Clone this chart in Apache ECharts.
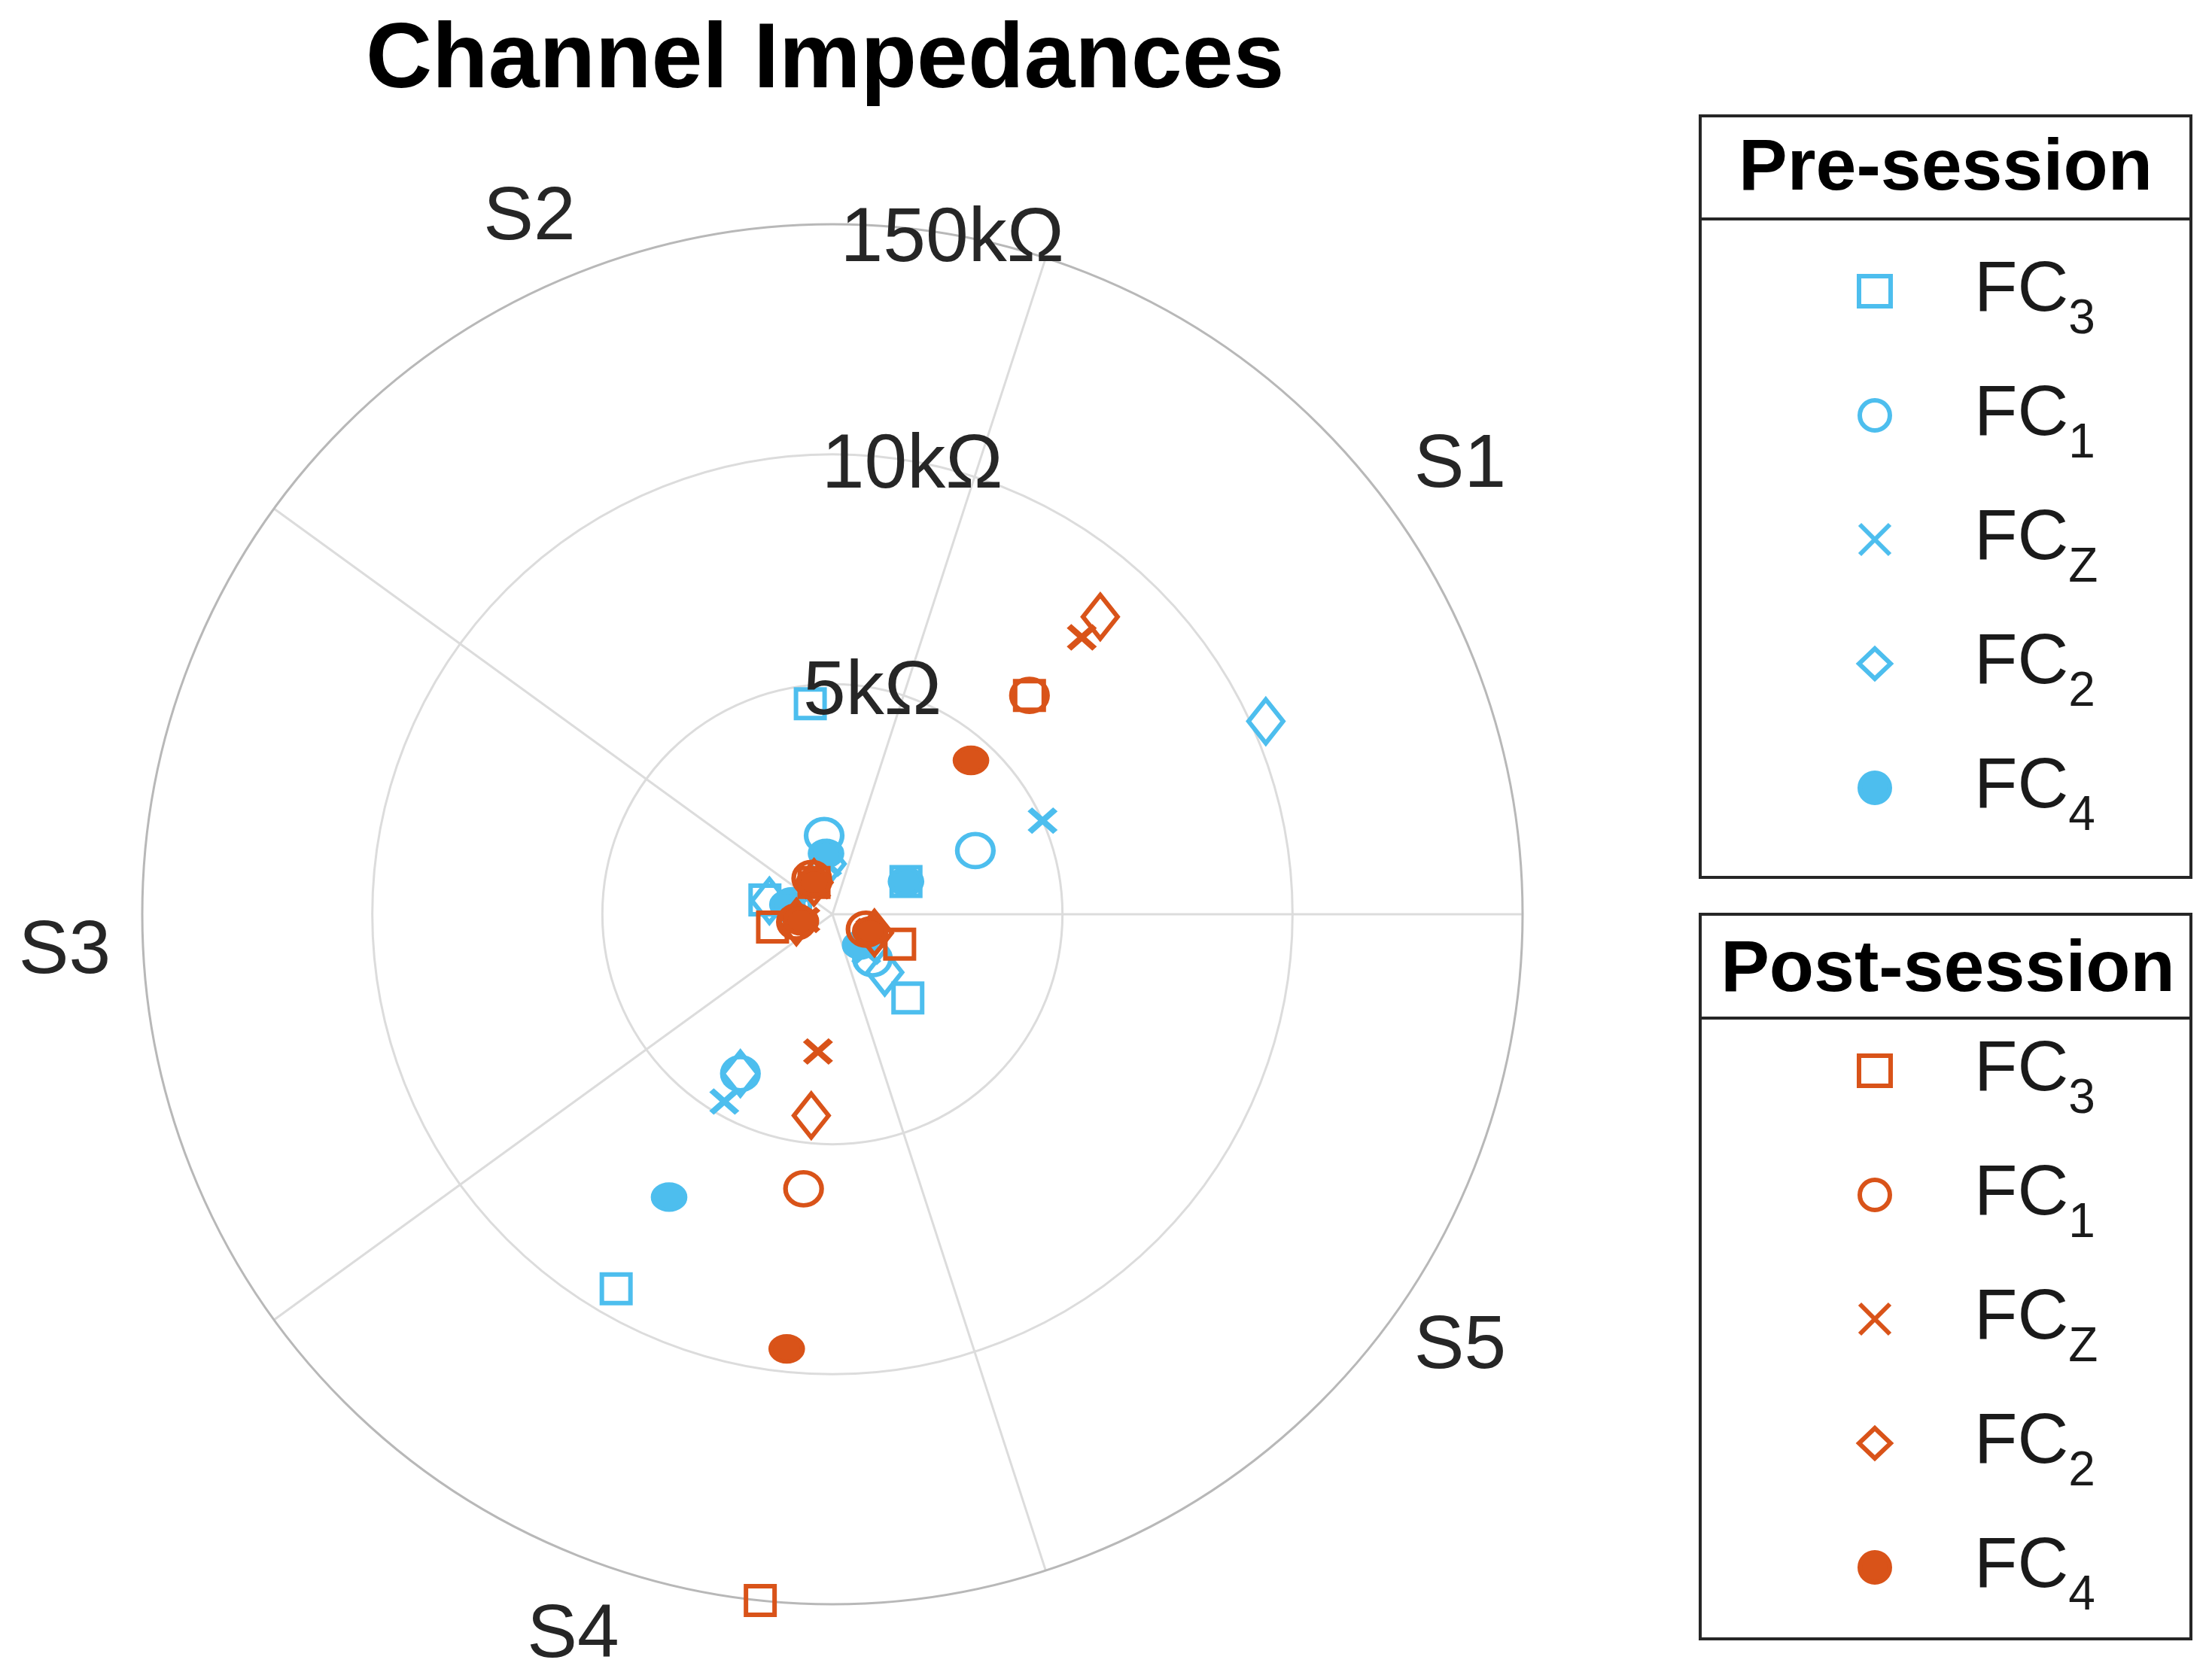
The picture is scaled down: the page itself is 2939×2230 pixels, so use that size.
<!DOCTYPE html>
<html><head><meta charset="utf-8">
<script src="https://cdn.jsdelivr.net/npm/echarts@6/dist/echarts.min.js"></script>
<style>html,body{margin:0;padding:0;background:#fff}#c{width:2939px;height:2230px}</style>
</head><body><div id="c"></div><script>
// ---- data (impedance in kΩ) ----
const sessions = ['S1','S2','S3','S4','S5'];
const channelSubs = ['3','1','Z','2','4'];
const radialTicksK = [5, 10, 150];
const radialTickLabels = ['5kΩ','10kΩ','150kΩ'];
const pre_FC3 = [1.75, 4.6, 1.5, 9.4, 2.45];
const pre_FC1 = [3.4, 1.72, 0.9, 4.0, 1.3];
const pre_FCZ = [5.0, 1.1, 0.8, 4.7, 1.1];
const pre_FC2 = [18.7, 1.1, 1.4, 4.0, 1.7];
const pre_FC4 = [1.75, 1.33, 1.0, 7.1, 0.9];
const post_FC3 = [6.4, 0.8, 1.33, 150, 1.6];
const post_FC1 = [6.4, 0.9, 0.8, 6.0, 0.8];
const post_FCZ = [8.1, 0.7, 0.6, 3.0, 0.9];
const post_FC2 = [8.7, 0.8, 0.8, 4.4, 1.0];
const post_FC4 = [4.5, 0.8, 0.7, 9.5, 0.9];

const BLUE = '#4DBEEE', ORANGE = '#D95319', TXT = '#262626';
const FONT = "'Liberation Sans', Arial, Helvetica, sans-serif";

// piecewise radial scale: 0 ->0, 5k ->1, 10k ->2, 150k ->3
function toRadial(k) {
  const knots = [0].concat(radialTicksK);
  for (let i = 1; i < knots.length; i++) {
    if (k <= knots[i]) return (i - 1) + (k - knots[i-1]) / (knots[i] - knots[i-1]);
  }
  return knots.length - 1;
}
// sector layout: each session gets a 72° wedge; pre at 1/3, post at 2/3 of the wedge
const START = 72; // angle axis start (screen degrees)
function angleFor(sessionIdx, isPost) {
  const screen = sessionIdx * 72 + (isPost ? 48 : 24);
  return ((screen - START) % 360 + 360) % 360;
}
const xPath = 'path://M0,0L10,10M10,0L0,10';
const symbols = ['rect', 'circle', xPath, 'diamond', 'circle'];
const sizes = [[38,38], [48,44], [34,30], [46,58], [42,34]];
const preSets = [pre_FC3, pre_FC1, pre_FCZ, pre_FC2, pre_FC4];
const postSets = [post_FC3, post_FC1, post_FCZ, post_FC2, post_FC4];

function makeSeries(sets, isPost, color, prefix) {
  return sets.map((vals, ci) => ({
    name: prefix + channelSubs[ci],
    type: 'scatter',
    coordinateSystem: 'polar',
    polarIndex: 0,
    symbol: symbols[ci],
    symbolSize: sizes[ci],
    z: isPost ? 3 : 2,
    itemStyle: {
      opacity: 1,
      color: ci === 4 ? color : 'rgba(0,0,0,0)',
      borderColor: color,
      borderWidth: ci === 2 ? 8 : 6
    },
    data: vals.map((v, si) => [toRadial(v), angleFor(si, isPost)])
  }));
}
const preSeries = makeSeries(preSets, false, BLUE, 'Pre FC');
const postSeries = makeSeries(postSets, true, ORANGE, 'Post FC');

const sLabelByValue = {};
sessions.forEach((s, i) => { sLabelByValue[angleFor(i, false) + 12] = s; });
// small per-label nudges (padding / line height) to match the original label placement
const sRich = {
  S1: { padding: [0, 0, 0, 31], lineHeight: 114 },
  S2: { padding: [0, 58, 0, 0], lineHeight: 104 },
  S3: { padding: [100, 42, 0, 0], lineHeight: 112 },
  S4: { padding: [0, 0, 0, 0], lineHeight: 174 },
  S5: { padding: [0, 0, 0, 31], lineHeight: 72 }
};
Object.keys(sRich).forEach(k => Object.assign(sRich[k], { fontSize: 100, color: TXT, fontFamily: FONT }));

function legendCfg(series, top) {
  return {
    data: series.map(s => s.name),
    orient: 'vertical', left: 2467, top: top, padding: 0,
    itemWidth: 42, itemHeight: 40, itemGap: 48, selectedMode: false,
    itemStyle: { borderWidth: 6 },
    formatter: name => '{g| }{fc|FC}{sub|' + name.slice(-1) + '}',
    textStyle: {
      color: '#1a1a1a', fontFamily: FONT,
      rich: {
        g: { width: 106, fontSize: 94, lineHeight: 140, fontFamily: FONT },
        fc: { fontSize: 94, lineHeight: 140, fontFamily: FONT, color: '#1a1a1a' },
        sub: { fontSize: 64, lineHeight: 14, verticalAlign: 'bottom', fontFamily: FONT, color: '#1a1a1a' }
      }
    }
  };
}

const chart = echarts.init(document.getElementById('c'), null, { renderer: 'canvas' });
chart.setOption({
  backgroundColor: '#fff',
  animation: false,
  title: {
    text: 'Channel Impedances', left: 486, top: 21, padding: 0,
    textStyle: { fontFamily: FONT, fontWeight: 'bold', fontSize: 122, color: '#000' }
  },
  polar: [
    { center: [1106, 1215], radius: 917 },
    { center: [1106, 1215], radius: 917 }
  ],
  angleAxis: [
    {
      polarIndex: 0, type: 'value', min: 0, max: 360, interval: 36,
      startAngle: START, clockwise: false,
      axisLine: { show: true, lineStyle: { color: '#b8b8b8', width: 3 } },
      axisTick: { show: false },
      axisLabel: {
        show: true, margin: 0,
        fontSize: 100, color: TXT, fontFamily: FONT,
        formatter: v => sLabelByValue[v] ? '{' + sLabelByValue[v] + '|' + sLabelByValue[v] + '}' : '',
        rich: sRich
      },
      splitLine: { show: true, lineStyle: { color: ['#dcdcdc', 'rgba(0,0,0,0)'], width: 3 } }
    },
    {
      polarIndex: 1, type: 'value', min: 0, max: 360, startAngle: 80, clockwise: false, show: false
    }
  ],
  radiusAxis: [
    {
      polarIndex: 0, type: 'value', min: 0, max: 3, interval: 1,
      axisLine: { show: false }, axisTick: { show: false }, axisLabel: { show: false },
      splitLine: { show: true, lineStyle: { color: ['#dcdcdc', '#dcdcdc', '#dcdcdc', 'rgba(0,0,0,0)'], width: 3 } }
    },
    {
      polarIndex: 1, type: 'value', min: 0, max: 3, interval: 1, z: 5,
      axisLine: { show: false }, axisTick: { show: false }, splitLine: { show: false },
      axisLabel: {
        show: true, margin: 0, align: 'center', verticalAlign: 'middle',
        fontSize: 102, color: TXT, fontFamily: FONT,
        formatter: v => (v >= 1 && v <= 3) ? '{r|' + radialTickLabels[v - 1] + '}' : '',
        rich: { r: { fontSize: 102, color: TXT, fontFamily: FONT, padding: [14, 0, 0, 0] } }
      }
    }
  ],
  legend: [legendCfg(preSeries, 340), legendCfg(postSeries, 1376)],
  graphic: [
    { type: 'rect', shape: { x: 2259, y: 154, width: 652, height: 1012 }, style: { fill: 'rgba(0,0,0,0)', stroke: '#262626', lineWidth: 4 } },
    { type: 'line', shape: { x1: 2259, y1: 291, x2: 2911, y2: 291 }, style: { stroke: '#262626', lineWidth: 4 } },
    { type: 'text', x: 2585, y: 225, style: { text: 'Pre-session', fontFamily: FONT, fontWeight: 'bold', fontSize: 97, fill: '#000', align: 'center', verticalAlign: 'middle' } },
    { type: 'rect', shape: { x: 2259, y: 1215, width: 652, height: 963 }, style: { fill: 'rgba(0,0,0,0)', stroke: '#262626', lineWidth: 4 } },
    { type: 'line', shape: { x1: 2259, y1: 1353, x2: 2911, y2: 1353 }, style: { stroke: '#262626', lineWidth: 4 } },
    { type: 'text', x: 2588, y: 1290, style: { text: 'Post-session', fontFamily: FONT, fontWeight: 'bold', fontSize: 97, fill: '#000', align: 'center', verticalAlign: 'middle' } }
  ],
  series: preSeries.concat(postSeries)
});
</script></body></html>
